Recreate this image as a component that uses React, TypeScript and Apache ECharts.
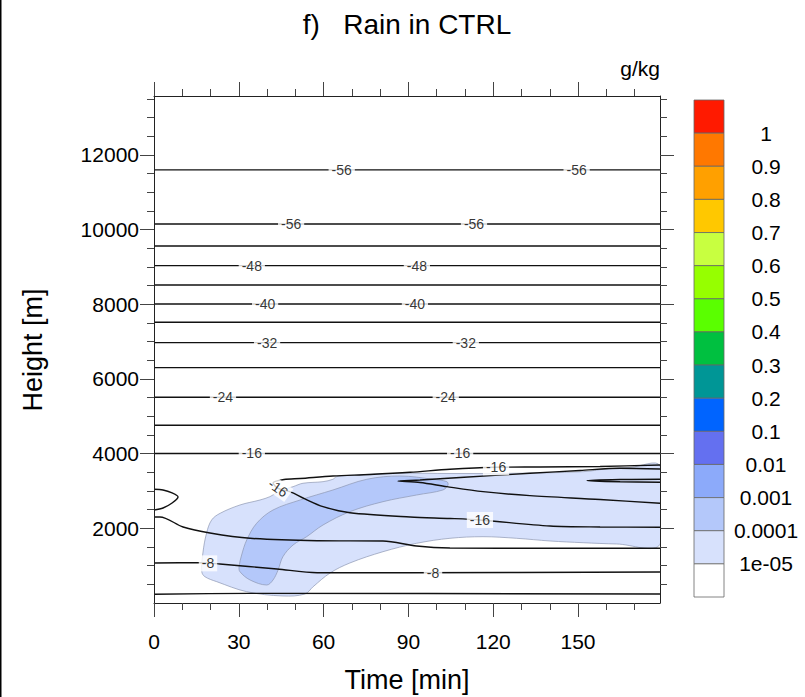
import React, { useEffect, useRef } from "react";
import * as echarts from "echarts";

const FONT = '"Liberation Sans", Arial, Helvetica, sans-serif';

// ---- axes ----
const TIME_MAX = 179;
const HEIGHT_MAX = 13580;
const timeMajorTicks = [0, 30, 60, 90, 120, 150];
const timeMinorTicks = [10, 20, 40, 50, 70, 80, 100, 110, 130, 140, 160, 170];
const heightMajorTicks = [2000, 4000, 6000, 8000, 10000, 12000];
const heightMinorTicks = [
  500, 1000, 1500, 2500, 3000, 3500, 4500, 5000, 5500, 6500, 7000, 7500,
  8500, 9000, 9500, 10500, 11000, 11500, 12500, 13000, 13500,
];

// ---- rain shading (g/kg), listed from top of the colour bar downwards ----
const rainBarLabels = ["1", "0.9", "0.8", "0.7", "0.6", "0.5", "0.4", "0.3", "0.2", "0.1", "0.01", "0.001", "0.0001", "1e-05"];
const rainBarColors = [
  "#ff1a00", "#ff7800", "#ffa000", "#ffc800", "#c8ff40", "#96ff00", "#5aff00",
  "#00c040", "#009696", "#0064ff", "#6470f0", "#8caafa", "#b4c8fa", "#d7e1fc", "#ffffff",
];

// rain >= 1e-05 g/kg  [time (min), height (m)]
const rainAbove1e5: [number, number][] = [
  [18.6, 1875], [20.4, 2224], [23.4, 2403], [30.4, 2625], [37.5, 2759], [41.0, 2848],
  [44.6, 3000], [49.2, 3116], [52.7, 3207], [59.8, 3250], [63.3, 3314], [64.6, 3384],
  [71.7, 3429], [87.0, 3475], [104.7, 3469], [128.3, 3475], [151.8, 3518], [159.9, 3590],
  [168.4, 3630], [179, 3670], [179, 1573], [163.7, 1581], [151.8, 1615], [140.1, 1661],
  [128.3, 1733], [116.4, 1776], [104.7, 1733], [92.9, 1599], [81.0, 1374], [69.3, 1072],
  [62.3, 804], [56.3, 437], [53.4, 241], [45.6, 188], [32.8, 303], [22.2, 571],
  [18.0, 705], [16.9, 839], [17.3, 1340],
];

// rain >= 1e-04 g/kg
const rainAbove1e4: [number, number][] = [
  [30.4, 839], [34.0, 616], [39.9, 482], [42.1, 616], [43.9, 884], [45.6, 1240],
  [49.2, 1554], [54.0, 1776], [59.8, 2090], [69.3, 2446], [81.0, 2714], [92.9, 2893],
  [102.2, 3027], [104.0, 3161], [103.6, 3250], [98.7, 3314], [87.0, 3402], [75.3, 3314],
  [63.3, 3027], [51.7, 2759], [42.1, 2491], [36.3, 2135], [32.8, 1688], [31.0, 1286],
  [30.1, 973],
];

// ---- temperature (degC) isolines ----
const flatIsoValues = [-56, -56, -52, -48, -44, -40, -36, -32, -28, -24, -20, -16];
const flatIsoHeights = [11600, 10153, 9564, 9036, 8519, 8010, 7520, 6973, 6304, 5511, 4761, 4005];

// -16 fold around the rain shaft
const iso16Fold: [number, number][] = [
  [179, 3697], [157.8, 3657], [136.6, 3643], [120.6, 3635], [104.7, 3582], [90.6, 3501],
  [76.4, 3443], [63.3, 3402], [51.7, 3335], [46.0, 3309], [42.1, 3215], [43.9, 3067],
  [48.1, 2982], [53.4, 2786], [59.8, 2580], [69.3, 2419], [90.6, 2304], [104.7, 2264],
  [115.3, 2224], [140.1, 2063], [157.8, 2036], [179, 2028],
];
const iso16Tongue: [number, number][] = [
  [179, 3590], [164.9, 3609], [150.7, 3550], [133.0, 3475], [108.3, 3362], [94.1, 3295],
  [86.3, 3268], [94.1, 3228], [103.6, 3116], [116.4, 2982], [133.0, 2875], [157.8, 2773],
  [179, 2671],
];
const iso16Sliver: [number, number][] = [
  [179, 3314], [164.9, 3306], [153.2, 3276], [164.9, 3247], [179, 3236],
];
const isoLens: [number, number][] = [
  [0, 3046], [3.2, 3027], [6.4, 2947], [8.5, 2840], [6.4, 2679], [3.2, 2545], [0, 2491],
];
const iso12: [number, number][] = [
  [0, 2304], [2.1, 2304], [10.3, 2036], [19.8, 1875], [34.0, 1733], [57.7, 1669],
  [81.0, 1661], [92.9, 1527], [104.7, 1473], [140.1, 1465], [179, 1465],
];
const iso8: [number, number][] = [
  [0, 1072], [16.3, 1080], [23.3, 1045], [43.5, 911], [57.7, 812], [90.6, 812], [179, 830],
];
const iso4: [number, number][] = [[0, 233], [34, 258], [179, 241]];

// isoline labels
const isoLabelText = [
  "-56", "-56", "-56", "-56", "-48", "-48", "-40", "-40", "-32", "-32", "-24", "-24",
  "-16", "-16", "-16", "-16", "-16", "-8", "-8",
];
const isoLabelTime = [
  66.4, 149.5, 48.5, 113.2, 34.6, 93.0, 39.3, 92.3, 40.0, 110.3, 24.4, 103.2,
  34.6, 108.3, 121.0, 43.9, 115.3, 19.1, 98.7,
];
const isoLabelHeight = [
  11600, 11600, 10153, 10153, 9036, 9036, 8010, 8010, 6973, 6973, 5511, 5511,
  4005, 4005, 3635, 3081, 2224, 1062, 812,
];
const isoLabelAngle = [0, 0, 0, 0, 0, 0, 0, 0, 0, 0, 0, 0, 0, 0, 0, -35, 0, 0, 0];

const GRID = { left: 154, top: 96, width: 506, height: 507, containLabel: false, outerBoundsMode: "none" };
const LINE = "#222";
const TICK = "#444";

function rainFill(pts: [number, number][], fill: string) {
  return {
    type: "custom",
    data: pts,
    encode: { x: 0, y: 1 },
    clip: true,
    silent: true,
    z: 1,
    renderItem: (params: any, api: any) => {
      if (params.dataIndex !== 0) return null;
      const points = pts.map((p) => api.coord(p));
      return {
        type: "polygon",
        shape: { points, smooth: 0.35 },
        style: { fill, stroke: "#8d96b2", lineWidth: 0.7 },
      };
    },
  };
}

function isoLine(pts: [number, number][]) {
  return {
    type: "line",
    data: pts,
    smooth: 0.3,
    symbol: "none",
    silent: true,
    clip: true,
    z: 3,
    lineStyle: { color: "#111", width: 1.4 },
  };
}

// grid 0 carries the frame, major ticks and labels; grid 1 (same box) the minor ticks
function tickAxis(kind: "x" | "y", position: string, major: boolean, labels: boolean) {
  const isX = kind === "x";
  return {
    type: "value",
    gridIndex: major ? 0 : 1,
    position,
    min: 0,
    max: isX ? TIME_MAX : HEIGHT_MAX,
    z: 10,
    splitLine: { show: false },
    axisLine: { show: major, onZero: false, lineStyle: { color: LINE, width: 1 } },
    axisTick: {
      show: true,
      inside: false,
      length: major ? 14 : 7,
      customValues: major
        ? (isX ? timeMajorTicks : heightMajorTicks)
        : (isX ? timeMinorTicks : heightMinorTicks),
      lineStyle: { color: TICK, width: 1 },
    },
    axisLabel: {
      show: labels,
      customValues: isX ? timeMajorTicks : heightMajorTicks,
      formatter: (v: number) => String(v),
      fontFamily: FONT,
      fontSize: 21,
      color: "#000",
      margin: isX ? 28 : 15,
    },
  };
}

export default function App() {
  const ref = useRef<HTMLDivElement>(null);

  useEffect(() => {
    if (!ref.current) return;
    const chart = echarts.init(ref.current, undefined, { renderer: "svg" });

    const flatLines = flatIsoHeights.map((h) => isoLine([[0, h], [TIME_MAX, h]]));

    const labelData = isoLabelText.map((t, i) => ({
      name: t,
      value: [isoLabelTime[i], isoLabelHeight[i]],
      label: { rotate: isoLabelAngle[i] },
    }));

    // colour bar
    const barX = 694;
    const barTop = 100;
    const barW = 30;
    const boxH = 497 / rainBarColors.length;
    const barGraphics: any[] = [];
    rainBarColors.forEach((c, i) => {
      barGraphics.push({
        type: "rect",
        shape: { x: barX, y: barTop + i * boxH, width: barW, height: boxH },
        style: { fill: c, stroke: "#666", lineWidth: 0.8 },
      });
    });
    rainBarLabels.forEach((l, i) => {
      barGraphics.push({
        type: "text",
        x: 766,
        y: barTop + (i + 1) * boxH,
        style: {
          text: l,
          fontFamily: FONT,
          fontSize: 21,
          fill: "#000",
          align: "center",
          verticalAlign: "middle",
        },
      });
    });

    chart.setOption({
      animation: false,
      backgroundColor: "#fff",
      grid: [GRID, GRID],
      xAxis: [
        tickAxis("x", "bottom", true, true),
        tickAxis("x", "top", true, false),
        tickAxis("x", "bottom", false, false),
        tickAxis("x", "top", false, false),
      ],
      yAxis: [
        tickAxis("y", "left", true, true),
        tickAxis("y", "right", true, false),
        tickAxis("y", "left", false, false),
        tickAxis("y", "right", false, false),
      ],
      series: [
        rainFill(rainAbove1e5, "#d7e1fc"),
        rainFill(rainAbove1e4, "#b4c8fa"),
        ...flatLines,
        isoLine(iso16Fold),
        isoLine(iso16Tongue),
        isoLine(iso16Sliver),
        isoLine(isoLens),
        isoLine(iso12),
        isoLine(iso8),
        isoLine(iso4),
        {
          type: "scatter",
          data: labelData,
          symbolSize: 0,
          silent: true,
          z: 5,
          label: {
            show: true,
            position: "inside",
            formatter: "{b}",
            fontFamily: FONT,
            fontSize: 14,
            color: "#000",
            backgroundColor: "#fff",
            padding: [1, 3],
          },
        },
      ],
      graphic: [
        { type: "rect", shape: { x: 0, y: 0, width: 1.5, height: 697 }, style: { fill: "#000" } },
        {
          type: "text",
          x: 407,
          y: 24,
          style: {
            text: "f)   Rain in CTRL",
            fontFamily: FONT,
            fontSize: 28,
            fill: "#000",
            align: "center",
            verticalAlign: "middle",
          },
        },
        {
          type: "text",
          x: 660,
          y: 68,
          style: {
            text: "g/kg",
            fontFamily: FONT,
            fontSize: 21,
            fill: "#000",
            align: "right",
            verticalAlign: "middle",
          },
        },
        {
          type: "text",
          x: 407,
          y: 680,
          style: {
            text: "Time [min]",
            fontFamily: FONT,
            fontSize: 27,
            fill: "#000",
            align: "center",
            verticalAlign: "middle",
          },
        },
        {
          type: "text",
          x: 33,
          y: 350,
          rotation: Math.PI / 2,
          style: {
            text: "Height [m]",
            fontFamily: FONT,
            fontSize: 27,
            fill: "#000",
            align: "center",
            verticalAlign: "middle",
          },
        },
        ...barGraphics,
      ],
    });

    return () => chart.dispose();
  }, []);

  return (
    <div
      ref={ref}
      style={{ position: "absolute", left: 0, top: 0, width: 805, height: 697, background: "#fff" }}
    />
  );
}
